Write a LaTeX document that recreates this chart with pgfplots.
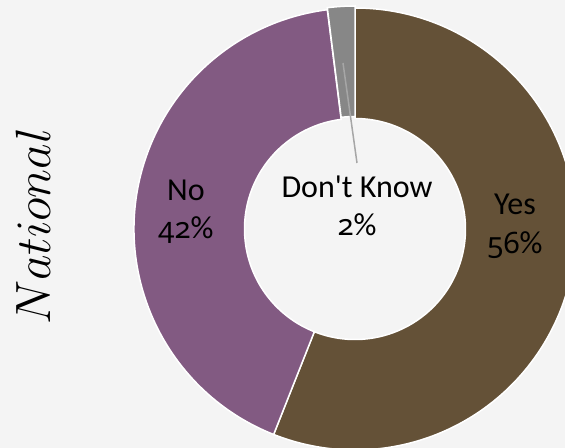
\documentclass[border=0pt]{standalone}
\usepackage{fontspec}
\setmainfont{Carlito}
\newfontfamily\numfont{Noto Sans}[Numbers=OldStyle,Scale=0.92]
\usepackage{pgfplots}
\usepackage{pgfplotstable}
\pgfplotsset{compat=1.18}
\definecolor{bgc}{HTML}{F4F4F4}
\definecolor{yescol}{HTML}{645137}
\definecolor{nocol}{HTML}{825A82}
\definecolor{dkcol}{HTML}{878787}
\definecolor{leader}{HTML}{A6A6A6}
\pgfplotstableread{
label value
Yes 56
No 42
DK 2
}\piedata
\begin{document}
\begin{tikzpicture}
\pgfplotstablegetelem{0}{value}\of\piedata \let\vA\pgfplotsretval
\pgfplotstablegetelem{1}{value}\of\piedata \let\vB\pgfplotsretval
\pgfplotstablegetelem{2}{value}\of\piedata \let\vC\pgfplotsretval
\pgfmathsetmacro\aA{90-3.6*\vA}
\pgfmathsetmacro\aB{\aA-3.6*\vB}
\pgfmathsetmacro\aC{\aB-3.6*\vC}
\begin{axis}[width=565bp,height=448bp,scale only axis,
  xmin=0,xmax=565,ymin=0,ymax=448,hide axis]
\fill[bgc] (axis cs:0,0) rectangle (axis cs:565,448);
\path[fill=yescol,draw=white,line width=1.5bp,shift={(axis cs:355,219)}]
  (90:221bp) arc[start angle=90,end angle=\aA,radius=221bp]
  -- (\aA:110.5bp) arc[start angle=\aA,end angle=90,radius=110.5bp] -- cycle;
\path[fill=nocol,draw=white,line width=1.5bp,shift={(axis cs:355,219)}]
  (\aA:221bp) arc[start angle=\aA,end angle=\aB,radius=221bp]
  -- (\aB:110.5bp) arc[start angle=\aB,end angle=\aA,radius=110.5bp] -- cycle;
\path[fill=dkcol,draw=white,line width=1.5bp,shift={(axis cs:355,221)}]
  (\aB:221bp) arc[start angle=\aB,end angle=\aC,radius=221bp]
  -- (\aC:110.5bp) arc[start angle=\aC,end angle=\aB,radius=110.5bp] -- cycle;
\draw[leader,line width=1.5bp] (axis cs:343,385) -- (axis cs:357,285);
\begin{scope}[every node/.style={anchor=base,font=\fontsize{32bp}{38bp}\selectfont}]
\node at (axis cs:357,250) {Don\textquotesingle t Know};
\node at (axis cs:357,212) {{\numfont\vC}\%};
\node at (axis cs:515,233) {Yes};
\node at (axis cs:515,194) {{\numfont\vA}\%};
\node at (axis cs:186,247.3) {No};
\node at (axis cs:186,209) {{\numfont\vB}\%};
\end{scope}
\node[anchor=base,rotate=90,scale=2.0,font=\fontsize{24.88pt}{30pt}\selectfont] at (axis cs:50,221.5) {$National$};
\end{axis}
\pgfresetboundingbox
\useasboundingbox (current axis.south west) rectangle (current axis.north east);
\end{tikzpicture}
\end{document}
